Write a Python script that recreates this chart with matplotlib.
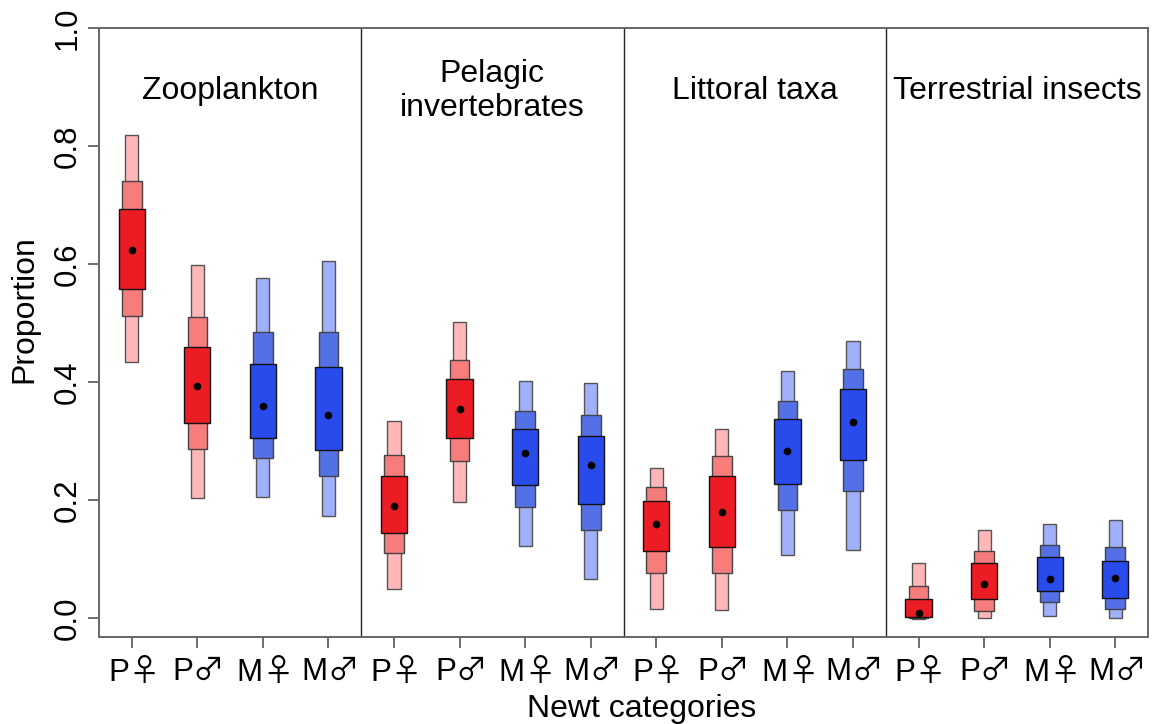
import matplotlib
matplotlib.use("Agg")
import matplotlib.pyplot as plt
import numpy as np

plt.rcParams['font.family'] = ['Liberation Sans', 'DejaVu Sans']
plt.rcParams['mathtext.fontset'] = 'custom'
plt.rcParams['mathtext.rm'] = 'Noto Sans CJK JP'

groups = ["Zooplankton", "Pelagic\ninvertebrates", "Littoral taxa", "Terrestrial insects"]
categories = ["P$\\mathrm{♀}$", "P$\\mathrm{♂}$", "M$\\mathrm{♀}$", "M$\\mathrm{♂}$"]
is_red = [True, True, False, False]

# per bar (group-major order): outer low/high, mid low/high, inner low/high, median
outer_lo = [0.434, 0.203, 0.206, 0.173,
            0.050, 0.197, 0.123, 0.067,
            0.016, 0.014, 0.107, 0.115,
            -0.002, 0.000, 0.003, 0.000]
outer_hi = [0.819, 0.598, 0.577, 0.606,
            0.334, 0.502, 0.401, 0.399,
            0.254, 0.320, 0.418, 0.470,
            0.094, 0.150, 0.159, 0.166]
mid_lo = [0.512, 0.286, 0.272, 0.241,
          0.110, 0.266, 0.188, 0.149,
          0.076, 0.077, 0.184, 0.215,
          0.000, 0.012, 0.027, 0.015]
mid_hi = [0.740, 0.511, 0.484, 0.484,
          0.276, 0.438, 0.351, 0.344,
          0.223, 0.275, 0.368, 0.422,
          0.055, 0.114, 0.124, 0.120]
inner_lo = [0.557, 0.330, 0.306, 0.285,
            0.145, 0.306, 0.225, 0.194,
            0.113, 0.120, 0.228, 0.268,
            0.002, 0.032, 0.046, 0.034]
inner_hi = [0.693, 0.460, 0.430, 0.425,
            0.241, 0.405, 0.320, 0.308,
            0.198, 0.240, 0.337, 0.388,
            0.033, 0.094, 0.104, 0.097]
median = [0.624, 0.394, 0.359, 0.344,
          0.190, 0.354, 0.279, 0.260,
          0.160, 0.180, 0.284, 0.332,
          0.009, 0.058, 0.066, 0.068]

red_cols = ['#FFB7B9', '#F77C7C', '#EC1C24']
blue_cols = ['#A0B0FA', '#5370E6', '#2A4BEB']
widths = [0.2, 0.3, 0.4]
edges = ['#555555', '#444444', '#111111']

fig = plt.figure(figsize=(11.52, 7.24), dpi=100)
ax = fig.add_axes([99/1152, 1 - 637/724, (1148-99)/1152, (637-28)/724])

n = len(median)
x = np.arange(1, n + 1)
cols_for = [red_cols if is_red[i % 4] else blue_cols for i in range(n)]

levels = [(outer_lo, outer_hi), (mid_lo, mid_hi), (inner_lo, inner_hi)]
for k, (lo, hi) in enumerate(levels):
    lo = np.array(lo); hi = np.array(hi)
    ax.bar(x, hi - lo, bottom=lo, width=widths[k],
           color=[c[k] for c in cols_for], edgecolor=edges[k],
           linewidth=1.0, zorder=2 + k)
ax.plot(x, median, 'o', color='black', markersize=4.5, zorder=10)

for b in [4.5, 8.5, 12.5]:
    ax.axvline(b, color='#222222', linewidth=1.0, zorder=1)

ax.set_xlim(0.5, 16.5)
ax.set_ylim(-0.032, 1.0)
ax.set_yticks([0.0, 0.2, 0.4, 0.6, 0.8, 1.0])
ax.set_yticklabels(["0.0", "0.2", "0.4", "0.6", "0.8", "1.0"], rotation=90,
                   va='center', fontsize=22.5)
ax.set_xticks(x)
ax.set_xticklabels(categories * 4, fontsize=22.5)
ax.tick_params(axis='both', direction='out', length=8, width=1.2, color='#555555')
ax.tick_params(axis='x', pad=6)
ax.tick_params(axis='y', pad=4)
for s in ax.spines.values():
    s.set_color('#666666')
    s.set_linewidth(1.4)

title_x = [2.5, 6.5, 10.5, 14.5]
for gx, g in zip(title_x, groups):
    ax.text(gx, 0.893, g, ha='center', va='center', fontsize=23,
            linespacing=1.2)

ax.set_xlabel("Newt categories", fontsize=23)
ax.xaxis.set_label_coords((642 - 99) / 1049, -0.093)
ax.set_ylabel("Proportion", fontsize=23)
ax.yaxis.set_label_coords(-0.057, (637 - 309) / 609)

fig.savefig("out.png", dpi=100)
